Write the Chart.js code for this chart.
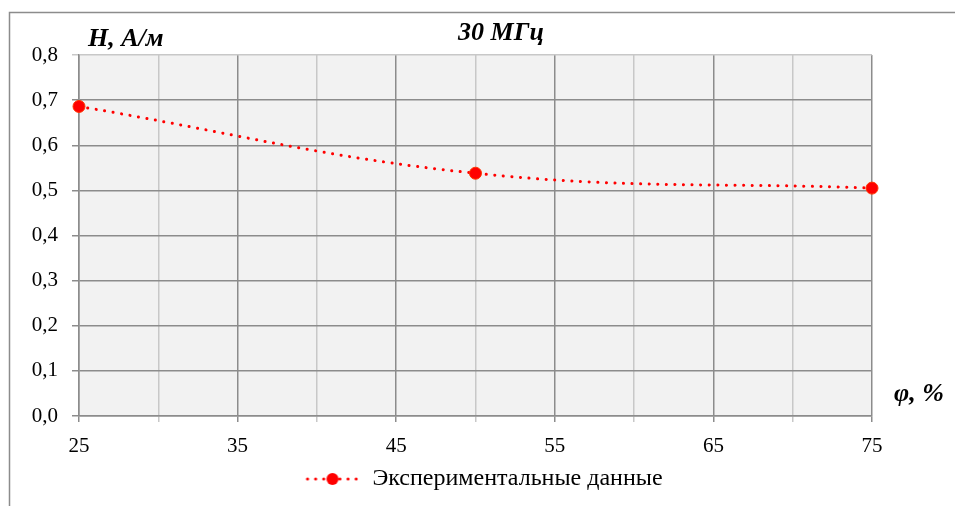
<!DOCTYPE html>
<html lang="ru">
<head>
  <meta charset="UTF-8" />
  <title>30 МГц</title>
  <script src="https://cdn.jsdelivr.net/npm/chart.js"></script>
  <style>
    body {
      margin: 0;
      background: #fff;
    }
    #wrap {
      width: 955px;
      height: 506px;
    }
  </style>
</head>
<body>
  <div id="wrap"><canvas id="grafico"></canvas></div>

  <script>
    // данные с графика
    const phi = [25, 50, 75];
    const hValues = [0.686, 0.538, 0.505];
    const seriesName = 'Экспериментальные данные';
    const chartTitle = '30 МГц';
    const yTitle = 'H, А/м';
    const xTitle = 'φ, %';
    const xTicks = [25, 35, 45, 55, 65, 75];

    const serif = "'Liberation Serif', 'Times New Roman', serif";

    // значок легенды: пунктир + маркер
    function legendIcon() {
      const c = document.createElement('canvas');
      c.width = 56;
      c.height = 14;
      const g = c.getContext('2d');
      g.strokeStyle = '#ff0000';
      g.lineWidth = 3;
      g.lineCap = 'round';
      g.setLineDash([0.1, 8]);
      g.beginPath();
      g.moveTo(3, 7);
      g.lineTo(54, 7);
      g.stroke();
      g.setLineDash([]);
      g.fillStyle = '#ff0000';
      g.beginPath();
      g.arc(28, 7, 6, 0, Math.PI * 2);
      g.fill();
      return c;
    }

    const extras = {
      id: 'extras',
      beforeDraw(chart) {
        const ctx = chart.ctx;
        ctx.save();
        ctx.strokeStyle = '#8c8c8c';
        ctx.lineWidth = 1.5;
        ctx.beginPath();
        ctx.moveTo(9.5, 506);
        ctx.lineTo(9.5, 12.5);
        ctx.lineTo(955, 12.5);
        ctx.stroke();
        const a = chart.chartArea;
        ctx.fillStyle = '#f2f2f2';
        ctx.fillRect(a.left, a.top, a.right - a.left, a.bottom - a.top);
        ctx.restore();
      },
      afterDraw(chart) {
        const ctx = chart.ctx;
        const a = chart.chartArea;
        ctx.save();
        ctx.fillStyle = '#000';
        ctx.font = 'italic bold 26px ' + serif;
        ctx.textBaseline = 'alphabetic';
        ctx.textAlign = 'center';
        ctx.fillText(chartTitle, 501, 40);
        ctx.textAlign = 'left';
        ctx.fillText(yTitle, a.left + 9, 46);
        ctx.fillText(xTitle, a.right + 22, 401);
        ctx.restore();
      }
    };

    new Chart(document.getElementById('grafico').getContext('2d'), {
      type: 'line',
      data: {
        datasets: [{
          label: seriesName,
          data: phi.map((x, i) => ({ x: x, y: hValues[i] })),
          borderColor: '#ff0000',
          backgroundColor: '#ff0000',
          borderWidth: 3,
          borderDash: [0.1, 8.5],
          borderCapStyle: 'round',
          tension: 0.4,
          pointRadius: 6,
          pointBorderWidth: 1,
          pointBorderColor: '#ff3300',
          pointHoverRadius: 6,
          clip: false,
          fill: false
        }]
      },
      options: {
        responsive: true,
        maintainAspectRatio: false,
        animation: false,
        layout: {
          padding: { left: 12, right: 0, top: 55, bottom: 5 }
        },
        plugins: {
          title: { display: false },
          tooltip: { enabled: false },
          legend: {
            position: 'bottom',
            labels: {
              usePointStyle: true,
              pointStyleWidth: 56,
              boxWidth: 56,
              boxHeight: 14,
              padding: 10,
              color: '#000',
              font: { family: serif, size: 24 },
              generateLabels: () => [{
                text: seriesName,
                pointStyle: legendIcon(),
                fillStyle: '#ff0000',
                strokeStyle: '#ff0000',
                lineWidth: 0,
                datasetIndex: 0
              }]
            }
          }
        },
        scales: {
          x: {
            type: 'linear',
            min: 25,
            max: 75,
            afterFit: s => { s.height = 41; },
            afterBuildTicks: s => {
              s.ticks = [];
              for (let v = 25; v <= 75; v += 5) s.ticks.push({ value: v });
            },
            ticks: {
              color: '#000',
              font: { family: serif, size: 21 },
              maxRotation: 0,
              autoSkip: false,
              padding: 12,
              callback: v => xTicks.includes(v) ? String(v) : ''
            },
            border: { color: '#8c8c8c', width: 1.5 },
            grid: {
              tickLength: 6,
              color: c => xTicks.includes(c.tick.value) ? '#8c8c8c' : '#c8c8c8',
              lineWidth: 1.5
            }
          },
          y: {
            min: 0,
            max: 0.8,
            afterFit: s => { s.width = 67; },
            ticks: {
              stepSize: 0.1,
              color: '#000',
              font: { family: serif, size: 21 },
              padding: 14,
              callback: v => v.toFixed(1).replace('.', ',')
            },
            border: { color: '#8c8c8c', width: 1.5 },
            grid: {
              tickLength: 7,
              color: c => Math.abs(c.tick.value - 0.8) < 1e-6 ? '#c8c8c8' : '#8c8c8c',
              lineWidth: 1.5
            }
          },
          // пустая ось справа — место под подпись φ, %
          y2: {
            position: 'right',
            min: 0,
            max: 1,
            afterFit: s => { s.width = 83; },
            ticks: { display: false },
            grid: { display: false },
            border: { display: false }
          }
        }
      },
      plugins: [extras]
    });
  </script>
</body>
</html>
